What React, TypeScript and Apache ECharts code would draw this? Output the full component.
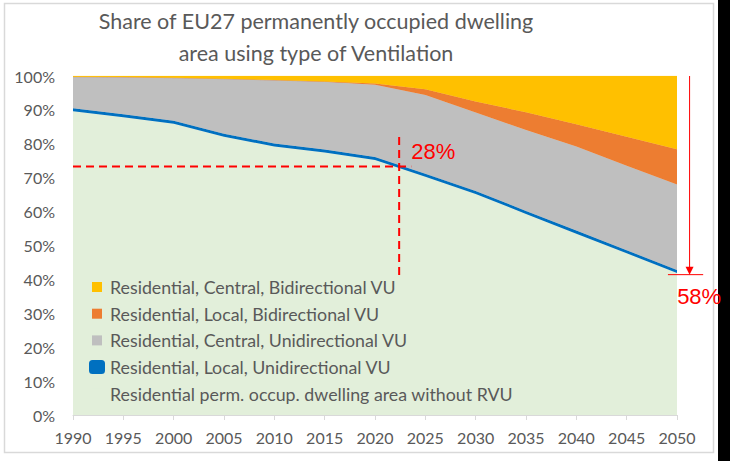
import React, { useEffect, useRef } from "react";
import * as echarts from "echarts";

// ---- data (shares of dwelling area, %) ----
const years = ["1990", "1995", "2000", "2005", "2010", "2015", "2020", "2025", "2030", "2035", "2040", "2045", "2050"];
const withoutRVU = [89.6, 87.8, 85.9, 82.1, 79.2, 77.4, 75.2, 70.3, 65.2, 59.3, 53.5, 47.7, 41.9];
const localUni = [0.9, 0.9, 0.9, 0.9, 0.9, 0.9, 0.9, 0.9, 0.9, 0.9, 0.9, 0.9, 0.9];
const centralUni = [9.3, 11.0, 12.7, 16.2, 18.7, 20.0, 21.3, 23.2, 23.1, 23.9, 24.8, 24.9, 25.2];
const localBi = [0, 0, 0, 0, 0, 0.1, 0.4, 1.7, 3.3, 5.2, 6.6, 8.6, 10.4];
const centralBi = [0.2, 0.3, 0.5, 0.8, 1.2, 1.6, 2.2, 3.9, 7.5, 10.7, 14.2, 17.9, 21.6];

const seriesNames = [
  "Residential perm. occup. dwelling area without RVU",
  "Residential, Local, Unidirectional VU",
  "Residential, Central, Unidirectional VU",
  "Residential, Local, Bidirectional VU",
  "Residential, Central, Bidirectional VU",
];
const legendOrder = [4, 3, 2, 1, 0];

const titleLines = ["Share of EU27 permanently occupied dwelling", "area using type of Ventilation"];

// annotation values (data coordinates: year, share %)
const refYear = 2022.4;
const refShare = 73.3;
const refLabel = "28%";
const endShare = 42;
const endLabel = "58%";

const FONT = "Lato, 'Open Sans', sans-serif";
const TEXT = "#595959";
const COLORS = ["#E2EFDA", "#0070C0", "#BFBFBF", "#ED7D31", "#FFC000"];
const SMALL_SQ = "path://M0,0M16,14M3,2L13,2L13,12L3,12Z";

export default function App() {
  const ref = useRef<HTMLDivElement>(null);
  useEffect(() => {
    document.body.style.margin = "0";
    const chart = echarts.init(ref.current!, null, { renderer: "svg" });
    const values = [withoutRVU, localUni, centralUni, localBi, centralBi];
    const series = values.map((arr, i) => ({
      name: seriesNames[i],
      type: "line",
      stack: "total",
      symbol: "none",
      data: arr,
      itemStyle: { color: COLORS[i] },
      lineStyle: { width: 0.6, color: COLORS[i] },
      areaStyle: { color: COLORS[i], opacity: 1 },
      z: 2 + i,
    }));
    chart.setOption({
      animation: false,
      backgroundColor: "#ffffff",
      grid: { left: 73, right: 53, top: 76, bottom: 46, containLabel: false },
      xAxis: {
        type: "category",
        data: years,
        boundaryGap: false,
        axisLine: { show: true, lineStyle: { color: "#D9D9D9", width: 1 } },
        axisTick: { show: true, length: 5, alignWithLabel: true, lineStyle: { color: "#D9D9D9" } },
        splitLine: { show: false },
        axisLabel: { color: TEXT, fontSize: 16, fontFamily: FONT, margin: 14, interval: 0 },
      },
      yAxis: {
        type: "value",
        min: 0,
        max: 100,
        interval: 10,
        axisLine: { show: false },
        axisTick: { show: false },
        splitLine: { show: false },
        axisLabel: { color: TEXT, fontSize: 16, fontFamily: FONT, margin: 18, formatter: "{value}%" },
      },
      legend: {
        orient: "vertical",
        left: 84,
        top: 273,
        itemWidth: 16,
        itemHeight: 14,
        itemGap: 8.7,
        selectedMode: false,
        textStyle: { color: TEXT, fontSize: 17.8, fontFamily: FONT },
        data: legendOrder.map((i) => ({
          name: seriesNames[i],
          icon: i === 1 ? "roundRect" : SMALL_SQ,
        })),
      },
      series,
    });

    const firstYear = Number(years[0]);
    const lastYear = Number(years[years.length - 1]);
    const p = (yr: number, v: number) => {
      const a = chart.convertToPixel({ xAxisIndex: 0, yAxisIndex: 0 }, [0, v]) as number[];
      const b = chart.convertToPixel({ xAxisIndex: 0, yAxisIndex: 0 }, [years.length - 1, v]) as number[];
      return [a[0] + ((yr - firstYear) / (lastYear - firstYear)) * (b[0] - a[0]), a[1]];
    };
    const h0 = p(1990, refShare);
    const h1 = p(2023.6, refShare);
    const v0 = p(refYear, 82);
    const v1 = p(refYear, 41.3);
    const lab28 = p(2023.6, 77.8);
    const aTop = p(2051.25, 100);
    const aBot = p(2051.25, endShare - 0.6);
    const hl0 = p(2049.1, endShare - 0.6);
    const hl1 = p(2052.6, endShare - 0.6);
    const lab58 = p(2052.2, 35);
    const RED = "#FF0000";

    chart.setOption({
      graphic: {
        elements: [
          {
            type: "rect",
            shape: { x: 4.5, y: 3.5, width: 709, height: 449 },
            style: { fill: "none", stroke: "#D9D9D9", lineWidth: 1.5 },
            z: 0,
          },
          {
            type: "rect",
            shape: { x: 718, y: 0, width: 12, height: 461 },
            style: { fill: "#000000" },
            z: 10,
          },
          {
            type: "text",
            x: 316,
            y: 21,
            style: { text: titleLines[0], font: `normal 21.5px ${FONT}`, fill: TEXT, align: "center", verticalAlign: "middle" },
            z: 10,
          },
          {
            type: "text",
            x: 316,
            y: 53,
            style: { text: titleLines[1], font: `normal 21.5px ${FONT}`, fill: TEXT, align: "center", verticalAlign: "middle" },
            z: 10,
          },
          {
            type: "line",
            shape: { x1: h0[0], y1: h0[1], x2: h1[0], y2: h1[1] },
            style: { stroke: RED, lineWidth: 2, lineDash: [8, 5] },
            z: 20,
          },
          {
            type: "line",
            shape: { x1: v0[0], y1: v0[1], x2: v1[0], y2: v1[1] },
            style: { stroke: RED, lineWidth: 2, lineDash: [8, 5] },
            z: 20,
          },
          {
            type: "text",
            x: lab28[0],
            y: lab28[1],
            style: { text: refLabel, font: "normal 22px 'Liberation Sans', Arial, sans-serif", fill: RED, align: "left", verticalAlign: "middle" },
            z: 20,
          },
          {
            type: "line",
            shape: { x1: aTop[0], y1: aTop[1], x2: aBot[0], y2: aBot[1] - 6 },
            style: { stroke: RED, lineWidth: 1 },
            z: 20,
          },
          {
            type: "polygon",
            shape: { points: [[aBot[0] - 4, aBot[1] - 8], [aBot[0] + 4, aBot[1] - 8], [aBot[0], aBot[1]]] },
            style: { fill: RED },
            z: 20,
          },
          {
            type: "line",
            shape: { x1: hl0[0], y1: hl0[1], x2: hl1[0], y2: hl1[1] },
            style: { stroke: RED, lineWidth: 1 },
            z: 20,
          },
          {
            type: "text",
            x: lab58[0],
            y: lab58[1],
            style: { text: endLabel, font: "normal 22px 'Liberation Sans', Arial, sans-serif", fill: RED, align: "center", verticalAlign: "middle" },
            z: 20,
          },
        ],
      },
    });
    return () => chart.dispose();
  }, []);
  return <div ref={ref} style={{ width: 730, height: 461 }} />;
}
